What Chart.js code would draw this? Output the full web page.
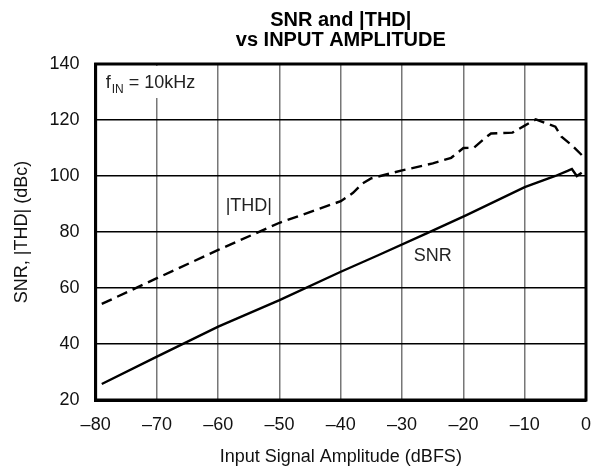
<!DOCTYPE html>
<html>
<head>
<meta charset="utf-8">
<script src="https://cdn.jsdelivr.net/npm/chart.js@4.4.1/dist/chart.umd.min.js"></script>
<style>
  html,body{margin:0;padding:0;background:#fff;}
  #wrap{width:605px;height:472px;}
</style>
</head>
<body>
<div id="wrap"><canvas id="myChart" width="605" height="472"></canvas></div>
<script>
// values (dBFS -> dBc)
const snrX=[-79,-70,-60,-50,-40,-34,-26,-19.5,-10,-8,-5,-3,-2.3,-1.5,-0.7];
const snrY=[25.7,35.5,46.2,55.7,65.8,71.6,79.5,86,96,97.6,100,101.8,102.5,100,101.2];
const thdX=[-79,-70,-60,-50,-40,-38,-36.5,-35,-30,-25,-22,-20,-18.3,-16.5,-15.5,-12,-10,-8.2,-6.5,-5,-4,-2.3,-0.7];
const thdY=[54.3,63.5,73.6,83.3,91,94,97.3,99.2,102,104.5,106.5,110,110.1,113.5,115.2,115.5,118,120.2,118.8,117.6,114,111,107.5];
const xTicks=[-80,-70,-60,-50,-40,-30,-20,-10,0];
const yTicks=[20,40,60,80,100,120,140];

function toPts(xs,ys)
{
  let pts=[];
  for(var i=0;i<xs.length;i++)
    pts.push({x:xs[i],y:ys[i]});
  return pts;
}

const FONT='"Liberation Sans", Arial, Helvetica, sans-serif';

// text labels inside the plot
const labelPlugin={
  id:'labels',
  beforeDatasetsDraw(chart){
    const ctx=chart.ctx;
    const xs=chart.scales.x, ys=chart.scales.y;
    ctx.save();
    // white patch behind the f_IN note
    ctx.fillStyle='#fff';
    ctx.fillRect(xs.left+6,ys.top+2,100,32);
    ctx.restore();
  },
  afterDatasetsDraw(chart){
    const ctx=chart.ctx;
    const xs=chart.scales.x, ys=chart.scales.y;
    ctx.save();
    ctx.fillStyle='#222';
    ctx.textBaseline='alphabetic';
    ctx.font='18px '+FONT;
    let x0=xs.left+10, y0=ys.top+24;
    ctx.fillText('f',x0,y0);
    let w=ctx.measureText('f').width;
    ctx.font='12px '+FONT;
    ctx.fillText('IN',x0+w+1,y0+5);
    let w2=ctx.measureText('IN').width;
    ctx.font='18px '+FONT;
    ctx.fillText(' = 10kHz',x0+w+1+w2,y0);
    ctx.textAlign='center';
    ctx.textBaseline='middle';
    ctx.fillText('|THD|',xs.getPixelForValue(-55),ys.getPixelForValue(89.3));
    ctx.fillText('SNR',xs.getPixelForValue(-25),ys.getPixelForValue(71.4));
    ctx.restore();
  }
};

const myChart=new Chart(document.getElementById('myChart').getContext('2d'),{
  type:'line',
  data:{
    datasets:[{
      label:'|THD|',
      data:toPts(thdX,thdY),
      borderColor:'#000',
      borderWidth:2.4,
      borderDash:[11,6],
      pointRadius:0,
      tension:0,
      fill:false
    },{
      label:'SNR',
      data:toPts(snrX,snrY),
      borderColor:'#000',
      borderWidth:2.4,
      pointRadius:0,
      tension:0,
      fill:false
    }]
  },
  options:{
    responsive:false,
    animation:false,
    layout:{padding:{left:0,right:14,top:4,bottom:3}},
    plugins:{
      legend:{display:false},
      tooltip:{enabled:false},
      title:{
        display:true,
        fullSize:false,
        text:['SNR and |THD|','vs INPUT AMPLITUDE'],
        color:'#000',
        font:{family:FONT,size:20,weight:'bold',lineHeight:1.0},
        padding:{top:6,bottom:14}
      }
    },
    scales:{
      x:{
        type:'linear',
        min:-80,max:0,
        afterBuildTicks(axis){axis.ticks=xTicks.map(v=>({value:v}));},
        afterFit(axis){axis.height=69;},
        ticks:{
          color:'#111',
          font:{family:FONT,size:18},
          padding:14,
          maxRotation:0,
          callback:(v)=>(v<0?'\u2013'+Math.abs(v):''+v)
        },
        grid:{color:'#777',lineWidth:1.5,drawTicks:false},
        border:{display:true,color:'#000',width:3},
        title:{display:true,text:'Input Signal Amplitude (dBFS)',color:'#111',font:{family:FONT,size:18},padding:{top:0,bottom:1}}
      },
      y:{
        min:20,max:140,
        afterBuildTicks(axis){axis.ticks=yTicks.map(v=>({value:v}));},
        ticks:{
          color:'#111',
          font:{family:FONT,size:18},
          padding:16
        },
        grid:{color:'#000',lineWidth:1.5,drawTicks:false},
        border:{display:true,color:'#000',width:3},
        title:{display:true,text:'SNR, |THD| (dBc)',color:'#111',font:{family:FONT,size:18},padding:{top:11,bottom:1}}
      }
    }
  },
  plugins:[labelPlugin,{
    id:'frame',
    afterDraw(chart){
      const a=chart.chartArea, ctx=chart.ctx;
      ctx.save();
      ctx.strokeStyle='#000';
      ctx.lineWidth=3;
      ctx.strokeRect(a.left,a.top,a.right-a.left,a.bottom-a.top);
      ctx.restore();
    }
  }]
});
</script>
</body>
</html>
